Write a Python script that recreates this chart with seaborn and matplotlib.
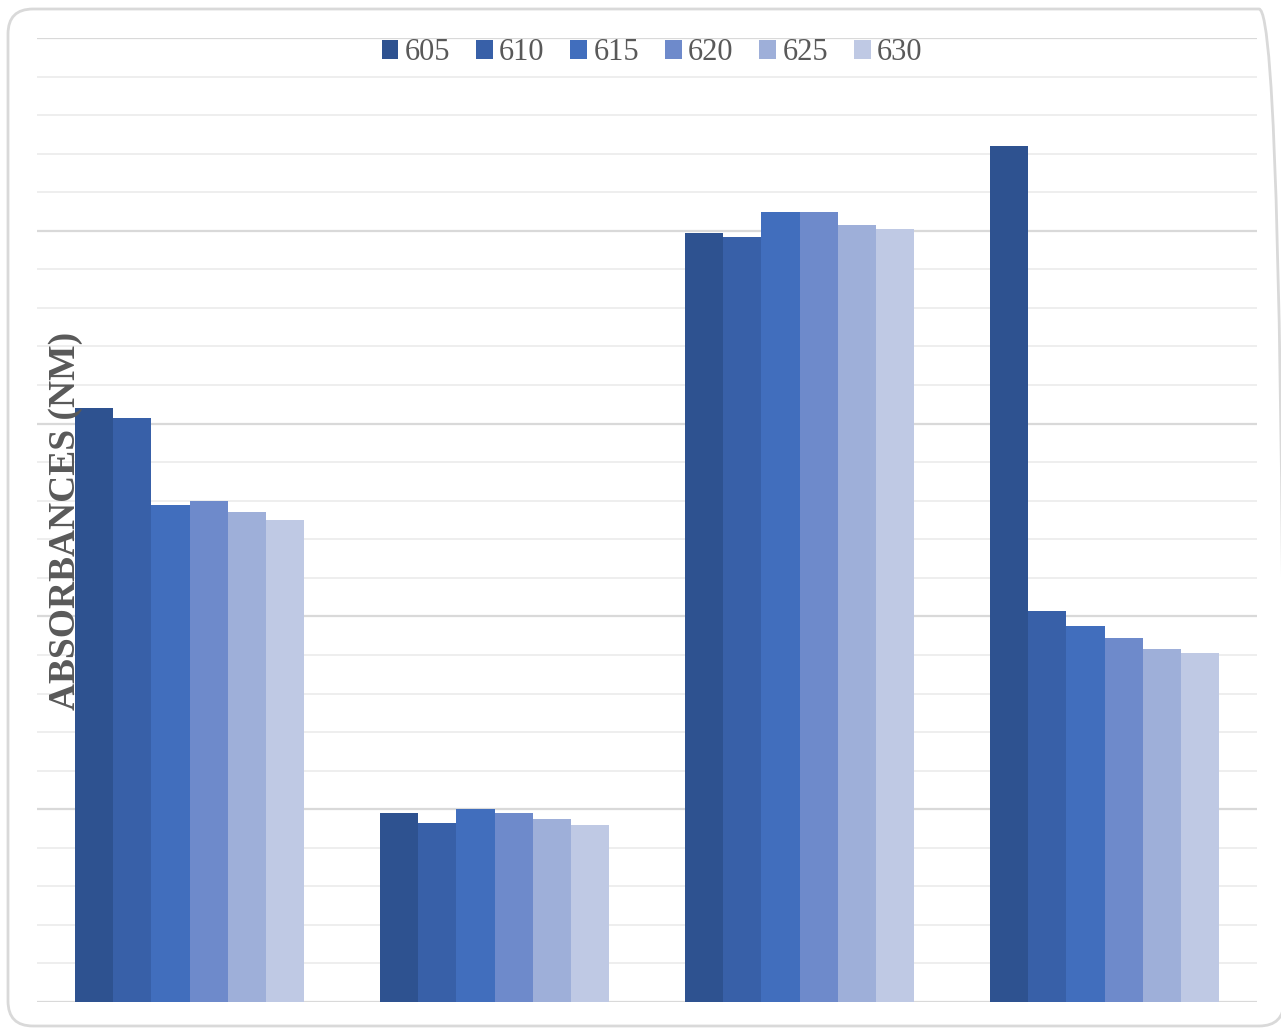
import numpy as np
import pandas as pd
import matplotlib
matplotlib.use("Agg")
import matplotlib.pyplot as plt
import seaborn as sns
from matplotlib.patches import FancyBboxPatch
from matplotlib.ticker import MultipleLocator

# ===== data =====
samples = ["A", "B", "C", "D"]
wavelengths = ["605", "610", "615", "620", "625", "630"]
abs_605 = [0.308, 0.098, 0.399, 0.444]
abs_610 = [0.303, 0.093, 0.397, 0.203]
abs_615 = [0.258, 0.100, 0.410, 0.195]
abs_620 = [0.260, 0.098, 0.410, 0.189]
abs_625 = [0.254, 0.095, 0.403, 0.183]
abs_630 = [0.250, 0.092, 0.401, 0.181]
colors = ["#2E5290", "#3860A8", "#416EBD", "#6E8ACB", "#9EAFD9", "#BFC9E4"]

series = [abs_605, abs_610, abs_615, abs_620, abs_625, abs_630]
rows = []
for wl, vals in zip(wavelengths, series):
    for s, v in zip(samples, vals):
        rows.append({"sample": s, "wavelength": wl, "absorbance": v})
df = pd.DataFrame(rows)

# ===== plot =====
sns.set_style("white")
plt.rcParams["font.family"] = ["Liberation Serif", "DejaVu Serif"]

fig = plt.figure(figsize=(12.81, 10.28), dpi=100)
ax = fig.add_axes([37 / 1281, 1 - 1002 / 1028, 1220 / 1281, 964 / 1028])

sns.barplot(data=df, x="sample", y="absorbance", hue="wavelength",
            palette=colors, width=0.75, saturation=1, linewidth=0,
            ax=ax, legend=True)

ax.set_ylim(0, 0.5)
ax.set_xlim(-0.5, 3.5)
ax.yaxis.set_major_locator(MultipleLocator(0.1))
ax.yaxis.set_minor_locator(MultipleLocator(0.02))
ax.grid(axis="y", which="major", color="#d9d9d9", linewidth=1.6)
ax.grid(axis="y", which="minor", color="#eeeeee", linewidth=1.4)
ax.set_axisbelow(True)
for sp in ax.spines.values():
    sp.set_visible(False)
ax.tick_params(left=False, bottom=False, labelleft=False, labelbottom=False, which="both")
ax.set_xlabel("")
ax.set_ylabel("")

ax.legend(loc="center", bbox_to_anchor=(0.5 + 5 / 1220, 1 - 15 / 964), ncol=6, frameon=False,
          fontsize=22, handlelength=0.55, handleheight=0.55, handletextpad=0.2,
          columnspacing=0.85, labelcolor="#595959", borderpad=0)

fig.text(66 / 1281, 1 - 521 / 1028, "ABSORBANCES (NM)", rotation=90,
         ha="center", va="center", fontsize=27, fontweight="bold", color="#595959")

# rounded frame around the chart (inch coordinates)
frame = FancyBboxPatch((0.08, 0.02), 12.76, 10.17,
                       boxstyle="round,pad=0,rounding_size=0.25",
                       transform=fig.dpi_scale_trans, fill=False,
                       edgecolor="#d9d9d9", linewidth=2, zorder=-1)
fig.patches.append(frame)

fig.savefig("out.png", dpi=100)
